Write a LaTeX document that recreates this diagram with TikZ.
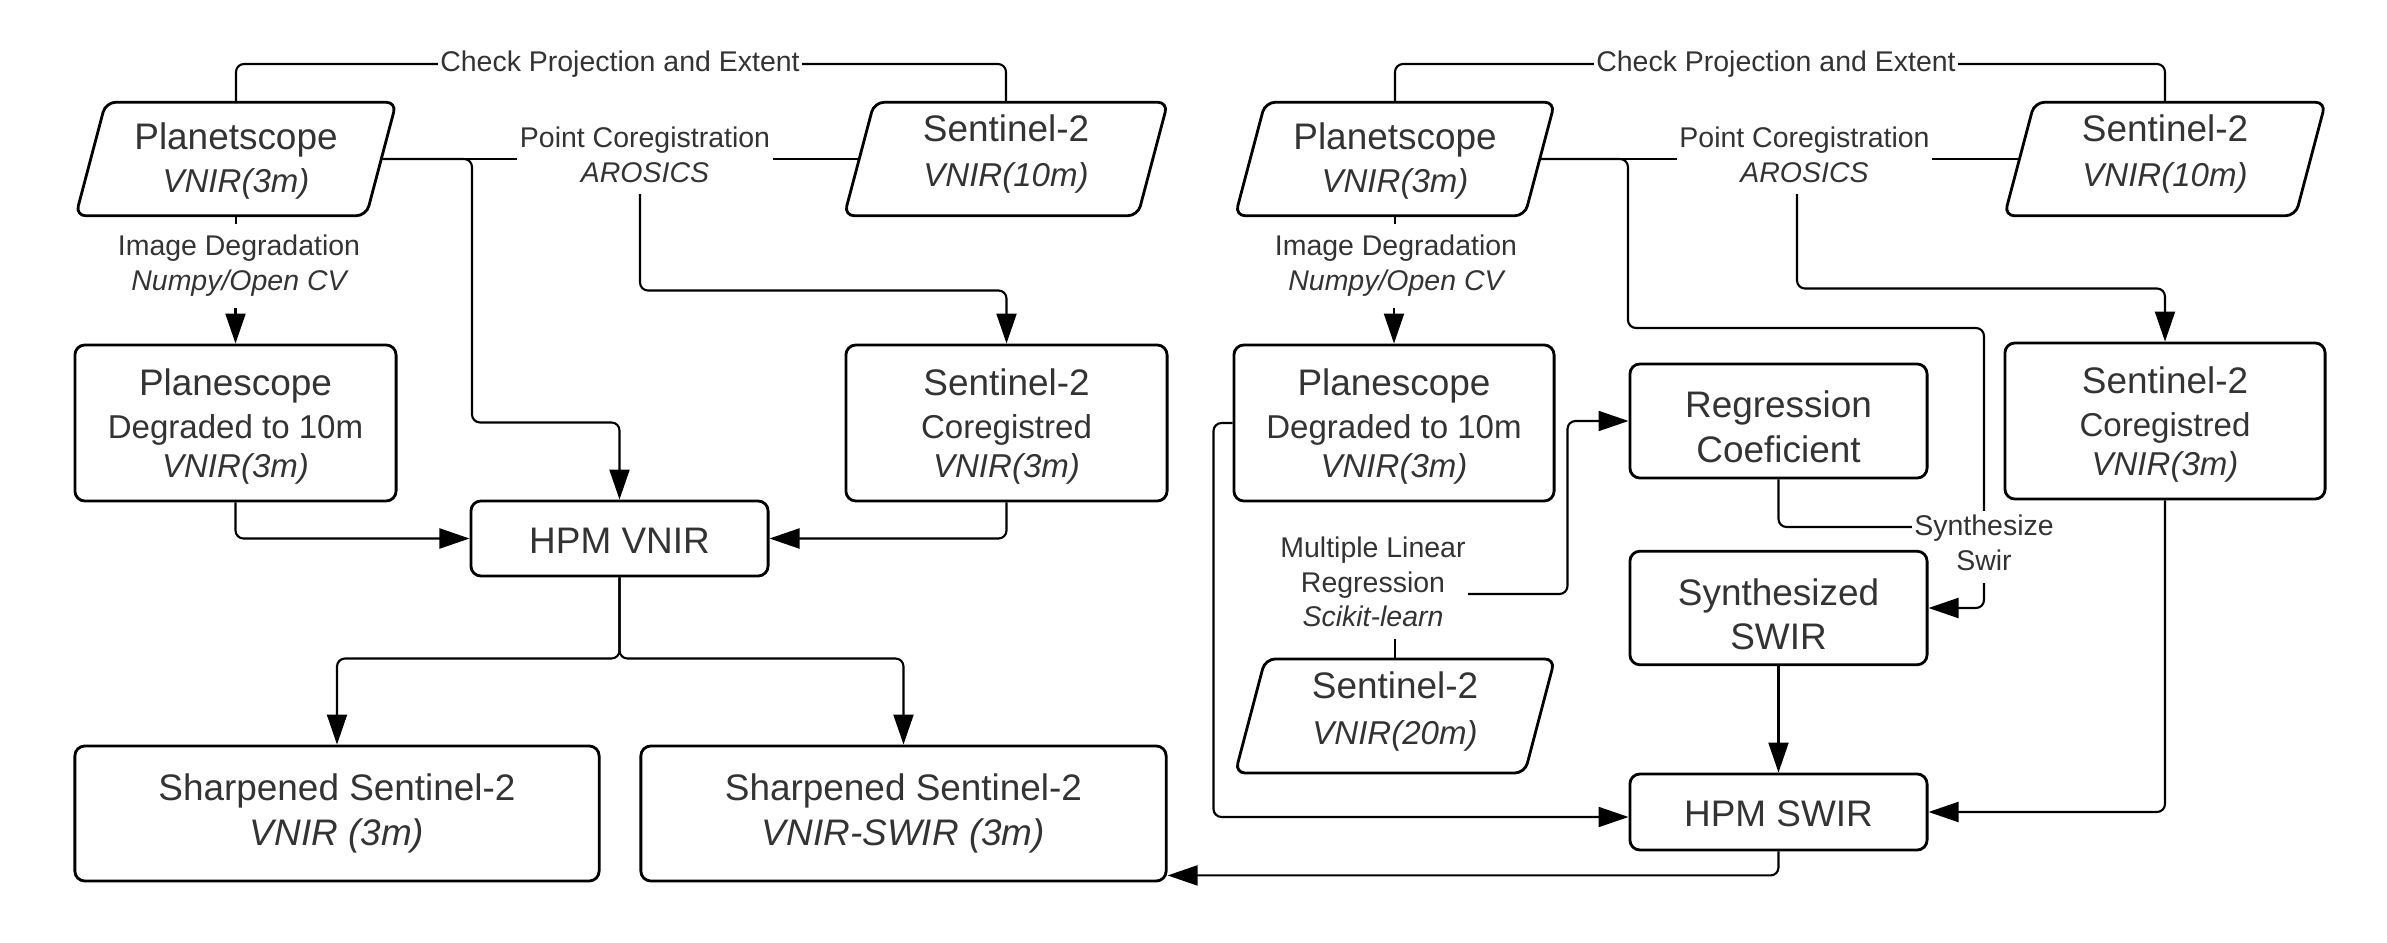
\documentclass[tikz,border=0pt]{standalone}
\usepackage{fontspec}
\setmainfont{Liberation Sans}
\usetikzlibrary{arrows.meta}
\definecolor{txt}{HTML}{333333}
\newcommand\ttl{\fontsize{10.5}{12.7}\selectfont}
\newcommand\sbt{\fontsize{9.4}{12.2}\selectfont}
\newcommand\lbl{\fontsize{8.1}{9.9}\selectfont}
\newcommand\hstrut[1]{\rule{0pt}{#1}}
\newcommand\dstrut[1]{\rule[-#1]{0pt}{#1}}
\newcommand\mypara[1]{\draw[pbord] ([xshift=-0.15cm]#1.south west) -- ([xshift=-0.15cm]#1.south east) -- ([xshift=0.15cm]#1.north east) -- ([xshift=0.15cm]#1.north west) -- cycle;}
\tikzset{
  box/.style={draw, line width=0.8pt, rounded corners=0.1cm, align=center, text=txt, inner sep=0pt},
  para/.style={align=center, text=txt, inner sep=0pt, font=\sbt},
  pbord/.style={line width=0.8pt, rounded corners=0.1cm},
  lab/.style={align=center, text=txt, inner xsep=0.5pt, inner ysep=3pt, font=\lbl},
  conn/.style={line width=0.6pt, rounded corners=0.08cm},
  arr/.style={conn, -{Triangle[length=0.3cm,width=0.2cm]}},
}
\begin{document}
\begin{tikzpicture}[x=0.01cm,y=-0.01cm]
\useasboundingbox (0,0) rectangle (2387,943);
% ---------------- left part ----------------
\node[para, minimum width=2.89cm, minimum height=1.12cm] (p1) at (236,159) {{\ttl\hstrut{8.6pt}Planetscope}\\{\itshape VNIR(3m)}};
\mypara{p1}
\node[para, minimum width=2.92cm, minimum height=1.12cm] (s1) at (1006,159) {{\ttl Sentinel-2}\\[0.6pt]{\itshape VNIR(10m)\dstrut{4.6pt}}};
\mypara{s1}
\node[box, font=\sbt, minimum width=3.21cm, minimum height=1.56cm] (pd) at (235.5,423) {{\ttl\hstrut{9.6pt}Planescope}\\Degraded to 10m\\[-1.1pt]{\itshape VNIR(3m)}};
\node[box, font=\sbt, minimum width=3.21cm, minimum height=1.56cm] (sc) at (1006.5,423) {{\ttl\hstrut{9.6pt}Sentinel-2}\\Coregistred\\[-1.1pt]{\itshape VNIR(3m)}};
\node[box, minimum width=2.97cm, minimum height=0.75cm, font=\ttl] (hv) at (619.5,538.5) {\hstrut{8.6pt}HPM VNIR};
\node[box, minimum width=5.24cm, minimum height=1.35cm, font=\ttl] (o1) at (337,813.5) {Sharpened Sentinel-2\\\itshape VNIR (3m)};
\node[box, minimum width=5.25cm, minimum height=1.35cm, font=\ttl] (o2) at (903.5,813.5) {Sharpened Sentinel-2\\\itshape VNIR-SWIR (3m)};

\node[lab, inner ysep=1pt] (cp) at (620,64) {Check Projection and Extent};
\node[lab] (pc) at (645,155) {Point Coregistration\\\itshape AROSICS};
\node[lab] (id) at (239,266) {Image Degradation\\\itshape Numpy/Open CV};
\coordinate (b1) at (472,422.5);

\draw[conn] (p1.north) |- (cp.west);
\draw[conn] (cp.east) -| (s1.north);
\draw[conn] (p1.east) -- (p1.east -| pc.west);
\draw[conn] (pc.east |- s1.west) -- (s1.west);
\draw[arr] (p1.east) -| (b1) -| (hv.north);
\draw[arr] ([xshift=-0.05cm]pc.south) |- ([yshift=0.53cm]sc.north) -- (sc.north);
\draw[conn] (p1.south) -- (p1.south |- id.north);
\draw[arr] (id.south -| pd.north) -- (pd.north);
\draw[arr] (pd.south) |- (hv.west);
\draw[arr] (sc.south) |- (hv.east);
\draw[arr] (hv.south) |- ([yshift=0.86cm]o1.north) -- (o1.north);
\draw[arr] (hv.south) |- ([yshift=0.86cm]o2.north) -- (o2.north);

% ---------------- right part ----------------
\node[para, minimum width=2.88cm, minimum height=1.12cm] (p2) at (1395,159) {{\ttl\hstrut{8.6pt}Planetscope}\\{\itshape VNIR(3m)}};
\mypara{p2}
\node[para, minimum width=2.895cm, minimum height=1.12cm] (s2) at (2165,159) {{\ttl Sentinel-2}\\[0.6pt]{\itshape VNIR(10m)\dstrut{4.6pt}}};
\mypara{s2}
\node[box, font=\sbt, minimum width=3.20cm, minimum height=1.56cm] (pd2) at (1394,423) {{\ttl\hstrut{9.6pt}Planescope}\\Degraded to 10m\\[-1.1pt]{\itshape VNIR(3m)}};
\node[box, font=\sbt, minimum width=3.20cm, minimum height=1.56cm] (sc2) at (2165,421) {{\ttl\hstrut{9.6pt}Sentinel-2}\\Coregistred\\[-1.1pt]{\itshape VNIR(3m)}};
\node[box, minimum width=2.97cm, minimum height=1.14cm, font=\ttl] (rc) at (1778.5,421) {\hstrut{10.8pt}Regression\\Coeficient};
\node[box, minimum width=2.97cm, minimum height=1.135cm, font=\ttl] (ss) at (1778.5,608) {\hstrut{11.2pt}Synthesized\\SWIR};
\node[box, minimum width=2.97cm, minimum height=0.76cm, font=\ttl] (hs) at (1778.5,812) {\hstrut{8.6pt}HPM SWIR};
\node[para, minimum width=2.88cm, minimum height=1.126cm] (s20) at (1395,716) {{\ttl Sentinel-2}\\[1pt]{\itshape VNIR(20m)\dstrut{4.6pt}}};
\mypara{s20}

\node[lab, inner ysep=1pt] (cp2) at (1776,64) {Check Projection and Extent};
\node[lab] (pc2) at (1804.5,155) {Point Coregistration\\\itshape AROSICS};
\node[lab] (id2) at (1396,266) {Image Degradation\\\itshape Numpy/Open CV};
\node[lab] (ml) at (1373,582) {Multiple Linear\\Regression\\\itshape Scikit-learn};
\node[lab, inner ysep=1pt] (syn) at (1984,543) {Synthesize\\Swir};
\coordinate (b3) at (1628,328);

\draw[conn] (p2.north) |- (cp2.west);
\draw[conn] (cp2.east) -| (s2.north);
\draw[conn] (p2.east) -- (p2.east -| pc2.west);
\draw[conn] (pc2.east |- s2.west) -- (s2.west);
\draw[arr] ([xshift=-0.075cm]pc2.south) |- ([yshift=0.53cm]sc2.north) -- (sc2.north);
\draw[conn] (p2.east) -| (b3) -| (syn.north);
\draw[conn] (p2.south) -- (p2.south |- id2.north);
\draw[arr] (id2.south -| pd2.north) -- (pd2.north);
\draw[arr] ([yshift=-0.12cm]ml.east) -| ([xshift=-0.61cm]rc.west) -- (rc.west);
\draw[conn] (s20.north) -- (s20.north |- ml.south);
\draw[conn] (rc.south) |- ([yshift=0.16cm]syn.west);
\draw[arr] ([yshift=-0.08cm]syn.south) |- (ss.east);
\draw[arr] (ss.south) -- (hs.north);
\draw[arr] (pd2.west) -- ++(-19,0) |- ([yshift=-0.05cm]hs.west);
\draw[arr] (sc2.south) |- (hs.east);
\draw[arr] (hs.south) |- ([yshift=0.07cm]o2.south east);
\end{tikzpicture}
\end{document}
